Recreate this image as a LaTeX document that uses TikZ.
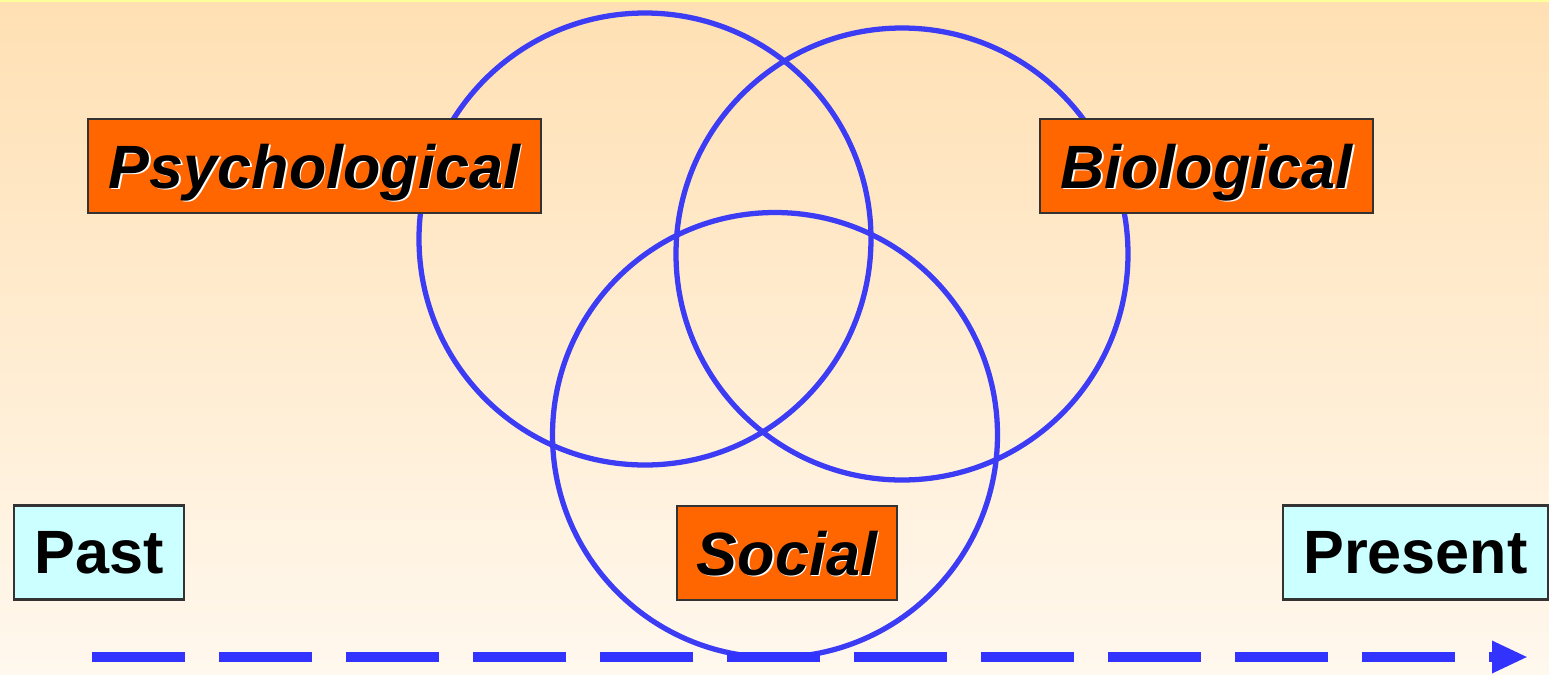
\documentclass[tikz,border=0pt]{standalone}
\usepackage{fontspec}
\setmainfont{Liberation Sans}
\usetikzlibrary{arrows.meta}
\definecolor{BPOrange}{RGB}{255,102,0}
\definecolor{BPCyan}{RGB}{204,255,255}
\definecolor{BPBlue}{RGB}{51,51,255}
\definecolor{BPRing}{RGB}{60,60,245}
\definecolor{BPTop}{RGB}{255,224,179}
\definecolor{BPBottom}{RGB}{255,248,238}
\definecolor{BPEdge}{RGB}{255,255,153}
\newcommand{\shadowtext}[1]{\makebox[0pt][l]{\hspace{0.5pt}\raisebox{-0.5pt}{\color{white}#1}}#1}

\begin{document}
\begin{tikzpicture}[
  box/.style={draw=black!80,line width=0.6pt,inner sep=0pt,minimum height=9.4mm,
              text depth=0pt,font=\fontsize{17.4}{20}\selectfont\bfseries},
  ring/.style={circle,draw=BPRing,line width=1.5pt,inner sep=0pt},
  arrow/.style={-{Triangle[length=3.6mm,width=3mm]},draw=BPBlue,line width=3.1pt,
                dash pattern=on 9.3mm off 3.4mm}
]
\shade[top color=BPTop,bottom color=BPBottom] (0,0) rectangle (15.49,6.74);
\fill[BPEdge] (0,6.72) rectangle (15.49,6.74);
\useasboundingbox (0,0) rectangle (15.49,6.74);
\node[ring,minimum size=45.2mm] (psyring) at (6.45,4.35) {};
\node[ring,minimum size=45.2mm] (bioring) at (9.02,4.20) {};
\node[ring,minimum size=44.5mm] (socring) at (7.75,2.39) {};
\node[box,fill=BPOrange,minimum width=45.3mm,font=\fontsize{17.4}{20}\selectfont\bfseries\itshape] (psy) at (3.145,5.08) {\shadowtext{Psychological}};
\node[box,fill=BPOrange,minimum width=33.3mm,font=\fontsize{17.4}{20}\selectfont\bfseries\itshape] (bio) at (12.065,5.08) {\shadowtext{Biological}};
\node[box,fill=BPOrange,minimum width=22mm,font=\fontsize{17.4}{20}\selectfont\bfseries\itshape] (soc) at (7.87,1.21) {\shadowtext{Social}};
\node[box,fill=BPCyan,minimum width=17mm] (past) at (0.99,1.215) {Past};
\node[box,fill=BPCyan,minimum width=26.5mm] (present) at (14.155,1.215) {Present};
\coordinate (then) at (0.92,0.17);
\coordinate (now) at (15.28,0.17);
\draw[arrow] (then)--(now);
\end{tikzpicture}
\end{document}
